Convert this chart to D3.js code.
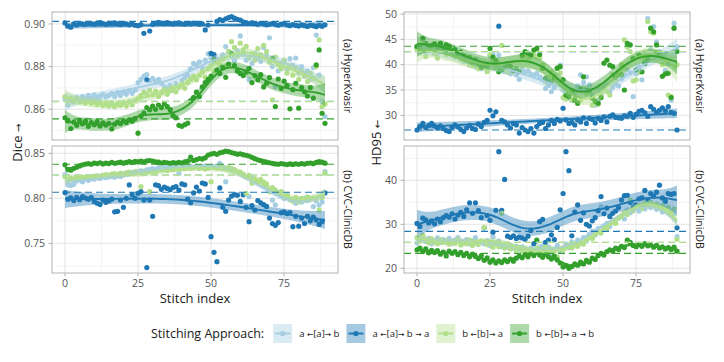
<!DOCTYPE html>
<html>
<head>
<meta charset="utf-8">
<script src="https://cdn.jsdelivr.net/npm/d3@7"></script>
<style>
  body { margin: 0; background: #ffffff; }
  svg { font-family: "Open Sans", sans-serif; }
  .arrow { font-family: "DejaVu Sans", sans-serif; }
</style>
</head>
<body>
<svg id="chart" width="724" height="362"></svg>
<script>
var stitchIndex = d3.range(90);
var approaches = [["a ", "\u2190", "[a]", "\u2192", " b"], ["a ", "\u2190", "[a]", "\u2192", " b ", "\u2192", " a"], ["b ", "\u2190", "[b]", "\u2192", " a"], ["b ", "\u2190", "[b]", "\u2192", " a ", "\u2192", " b"]];
var approachColors = ["#a6cee3", "#1f78b4", "#b2df8a", "#33a02c"];
var datasets = ["(a) HyperKvasir", "(b) CVC-ClinicDB"];
var metrics = [["Dice ", "\u2192"], ["HD95 ", "\u2190"]];

// Dice, HyperKvasir
var diceKvasirAB = [0.8650,0.8620,0.8640,0.8635,0.8655,0.8642,0.8660,0.8648,0.8665,0.8652,0.8668,0.8655,0.8662,0.8670,0.8658,0.8665,0.8674,0.8660,0.8678,0.8665,0.8682,0.8670,0.8688,0.8675,0.8690,0.8725,0.8740,0.8755,0.8762,0.8735,0.8745,0.8728,0.8740,0.8722,0.8705,0.8698,0.8712,0.8690,0.8720,0.8705,0.8735,0.8748,0.8760,0.8790,0.8815,0.8808,0.8822,0.8795,0.8830,0.8860,0.8842,0.8820,0.8835,0.8810,0.8855,0.8894,0.8870,0.8850,0.8828,0.8875,0.8944,0.8860,0.8830,0.8738,0.8815,0.8862,0.8840,0.8825,0.8890,0.8850,0.8935,0.8800,0.8706,0.8780,0.8815,0.8822,0.8790,0.8838,0.8805,0.8840,0.8770,0.8800,0.8755,0.8780,0.8740,0.8795,0.8948,0.8760,0.8635,0.8566];
var diceKvasirABA = [0.9005,0.8990,0.8985,0.9000,0.8995,0.9002,0.9000,0.8998,0.9003,0.9001,0.8999,0.9004,0.9006,0.9002,0.8998,0.9003,0.9001,0.9005,0.9000,0.8997,0.9002,0.9000,0.8996,0.9001,0.8994,0.8992,0.8997,0.8956,0.8738,0.8967,0.8998,0.9003,0.9007,0.9004,0.9001,0.9006,0.9003,0.9000,0.9002,0.9005,0.9001,0.8999,0.9003,0.9000,0.9004,0.9002,0.8998,0.9001,0.8972,0.8995,0.8862,0.8856,0.9012,0.9020,0.9016,0.9024,0.9030,0.9034,0.9027,0.9021,0.9018,0.9010,0.9006,0.9002,0.9005,0.9001,0.8998,0.9003,0.9000,0.8996,0.8999,0.9002,0.8997,0.8994,0.8999,0.9001,0.8995,0.8992,0.8997,0.8993,0.8990,0.8996,0.8992,0.8988,0.8994,0.8991,0.8987,0.8993,0.8989,0.8996];
var diceKvasirBA = [0.8660,0.8645,0.8652,0.8638,0.8648,0.8635,0.8642,0.8630,0.8645,0.8628,0.8638,0.8622,0.8635,0.8618,0.8630,0.8615,0.8628,0.8612,0.8625,0.8618,0.8630,0.8615,0.8635,0.8620,0.8642,0.8650,0.8665,0.8680,0.8672,0.8690,0.8668,0.8685,0.8660,0.8678,0.8692,0.8670,0.8688,0.8700,0.8682,0.8705,0.8715,0.8698,0.8725,0.8740,0.8755,0.8738,0.8760,0.8775,0.8750,0.8790,0.8805,0.8780,0.8820,0.8810,0.8835,0.8800,0.8872,0.8917,0.8890,0.8850,0.8910,0.8880,0.8895,0.8840,0.8860,0.8830,0.8885,0.8855,0.8900,0.8870,0.8820,0.8644,0.8845,0.8810,0.8790,0.8830,0.8770,0.8805,0.8760,0.8795,0.8740,0.8780,0.8760,0.8730,0.8770,0.8745,0.8800,0.8925,0.8612,0.8625];
var diceKvasirBAB = [0.8560,0.8545,0.8510,0.8540,0.8525,0.8548,0.8532,0.8545,0.8520,0.8538,0.8528,0.8542,0.8522,0.8536,0.8526,0.8534,0.8508,0.8530,0.8540,0.8533,0.8545,0.8538,0.8550,0.8544,0.8556,0.8488,0.8568,0.8582,0.8608,0.8598,0.8615,0.8600,0.8620,0.8608,0.8625,0.8612,0.8598,0.8570,0.8560,0.8525,0.8520,0.8528,0.8535,0.8640,0.8655,0.8680,0.8660,0.8705,0.8725,0.8740,0.8755,0.8834,0.8785,0.8768,0.8795,0.8750,0.8812,0.8862,0.8805,0.8780,0.8768,0.8758,0.8775,0.8792,0.8725,0.8758,0.8738,0.8762,0.8705,0.8722,0.8748,0.8839,0.8613,0.8742,0.8698,0.8732,0.8712,0.8602,0.8692,0.8722,0.8605,0.8702,0.8682,0.8662,0.8702,0.8652,0.8808,0.8878,0.8581,0.8534];

// Dice, CVC-ClinicDB
var diceClinicAB = [0.8262,0.8150,0.8142,0.8155,0.8195,0.8210,0.8185,0.8220,0.8200,0.8228,0.8215,0.8235,0.8222,0.8240,0.8230,0.8238,0.8245,0.8235,0.8250,0.8242,0.8258,0.8265,0.8272,0.8285,0.8278,0.8292,0.8305,0.8298,0.8315,0.8322,0.8330,0.8318,0.8340,0.8328,0.8345,0.8335,0.8350,0.8338,0.8345,0.8278,0.8352,0.8340,0.8355,0.8348,0.8342,0.8358,0.8346,0.8352,0.8360,0.8345,0.8355,0.8348,0.8360,0.8389,0.8352,0.8185,0.8345,0.8330,0.8310,0.8295,0.8278,0.8262,0.8240,0.8019,0.8225,0.8200,0.8175,0.8185,0.8150,0.8135,0.8100,0.7980,0.7926,0.8060,0.8025,0.8000,0.8040,0.7990,0.7970,0.7945,0.7985,0.7960,0.8000,0.7975,0.7990,0.7907,0.7970,0.7925,0.7960,0.8296];
var diceClinicABA = [0.8063,0.7990,0.8005,0.7975,0.8010,0.7985,0.8020,0.8002,0.7990,0.8008,0.7965,0.7945,0.7930,0.7980,0.7955,0.7970,0.7990,0.7850,0.7855,0.7980,0.7900,0.8000,0.8148,0.8040,0.8000,0.8055,0.8075,0.7980,0.7230,0.7980,0.7800,0.8150,0.8140,0.8100,0.8125,0.8110,0.8095,0.8120,0.8130,0.8090,0.8160,0.8150,0.7990,0.7950,0.8060,0.8125,0.8080,0.8170,0.8160,0.8010,0.7574,0.7400,0.7296,0.8115,0.7900,0.7855,0.7980,0.8025,0.8040,0.8035,0.7965,0.8040,0.7900,0.7740,0.7920,0.7870,0.7975,0.7950,0.7930,0.7910,0.7780,0.7720,0.7700,0.7730,0.7840,0.7850,0.7830,0.7840,0.7685,0.7800,0.7690,0.7780,0.7720,0.7800,0.7750,0.7790,0.7760,0.7710,0.7740,0.8060];
var diceClinicBA = [0.8240,0.8205,0.8225,0.8210,0.8230,0.8218,0.8235,0.8222,0.8240,0.8228,0.8245,0.8250,0.8238,0.8255,0.8262,0.8250,0.8268,0.8275,0.8262,0.8280,0.8272,0.8285,0.8292,0.8280,0.8296,0.8290,0.8130,0.8300,0.8292,0.8074,0.8305,0.8298,0.8407,0.8315,0.8322,0.8310,0.8325,0.8318,0.8330,0.8320,0.8335,0.8328,0.8340,0.8330,0.8338,0.8345,0.8332,0.8340,0.8325,0.8335,0.8185,0.8342,0.8335,0.8348,0.8338,0.8330,0.8340,0.8325,0.8318,0.8300,0.8292,0.8270,0.8056,0.8255,0.8167,0.8220,0.8195,0.8210,0.8180,0.8160,0.8074,0.8120,0.8090,0.8050,0.8075,0.8010,0.8035,0.7985,0.7970,0.8010,0.7960,0.8000,0.7980,0.8015,0.7990,0.8005,0.7995,0.7870,0.8010,0.8278];
var diceClinicBAB = [0.8372,0.8318,0.8312,0.8330,0.8345,0.8360,0.8372,0.8380,0.8385,0.8378,0.8392,0.8386,0.8395,0.8382,0.8390,0.8386,0.8398,0.8388,0.8395,0.8402,0.8390,0.8398,0.8408,0.8400,0.8410,0.8404,0.8412,0.8406,0.8415,0.8420,0.8412,0.8405,0.8398,0.8392,0.8400,0.8395,0.8388,0.8396,0.8390,0.8398,0.8392,0.8405,0.8412,0.8458,0.8420,0.8430,0.8442,0.8436,0.8450,0.8480,0.8492,0.8500,0.8488,0.8505,0.8512,0.8525,0.8518,0.8508,0.8500,0.8490,0.8495,0.8485,0.8478,0.8470,0.8455,0.8440,0.8428,0.8418,0.8410,0.8402,0.8395,0.8388,0.8382,0.8378,0.8386,0.8380,0.8375,0.8382,0.8376,0.8384,0.8378,0.8386,0.8380,0.8388,0.8392,0.8385,0.8398,0.8408,0.8402,0.8390];

// HD95, HyperKvasir
var hdKvasirAB = [43.4,43.0,43.8,42.6,43.2,42.8,43.5,42.2,42.9,43.1,42.4,42.8,42.0,41.6,42.2,41.0,40.6,41.2,40.0,40.4,39.6,40.0,39.2,39.8,38.9,41.8,42.0,39.2,41.9,38.9,38.6,39.5,38.2,38.8,38.0,37.1,39.1,38.5,38.8,38.2,37.8,38.3,37.6,37.0,35.3,35.9,34.7,35.5,36.8,39.9,35.0,34.2,33.4,33.0,34.5,35.8,38.0,36.5,37.6,36.0,34.0,32.0,33.0,34.5,35.2,36.0,34.7,35.5,36.2,35.8,37.2,38.0,39.0,38.4,33.7,38.2,39.5,37.0,40.6,49.1,43.0,47.5,44.5,42.6,41.5,38.9,40.2,33.0,48.2,43.5];
var hdKvasirABA = [27.1,27.8,28.4,27.6,28.0,28.4,27.9,27.5,27.9,27.4,27.0,26.8,27.6,28.1,27.7,27.2,26.8,27.5,28.0,27.4,27.2,28.3,27.8,28.6,29.0,31.0,29.9,30.7,47.6,29.0,28.7,28.1,27.5,28.4,28.1,26.5,27.6,27.1,26.8,27.4,26.5,27.8,28.4,28.6,27.4,28.1,29.0,28.4,29.2,28.9,31.4,29.1,28.4,28.6,28.1,29.1,28.7,29.5,28.4,29.4,29.2,28.5,29.4,29.0,29.7,28.7,29.8,30.1,29.6,29.5,29.4,29.9,29.8,30.4,29.6,30.2,30.8,31.0,30.5,29.8,31.7,31.2,30.6,31.0,31.5,30.9,31.7,30.6,30.4,27.1];
var hdKvasirBA = [43.0,42.5,44.2,41.6,42.8,43.5,42.2,41.3,43.0,42.6,42.0,43.2,42.5,41.5,42.0,41.2,40.8,41.5,40.2,39.8,40.5,39.2,40.0,39.5,38.6,42.0,40.8,39.5,40.2,43.8,39.0,38.5,39.4,38.6,39.0,38.8,41.5,41.8,41.2,41.6,42.0,41.5,41.3,40.0,36.6,37.5,38.6,38.0,39.3,38.4,33.5,33.2,34.8,33.0,33.5,32.4,33.0,35.3,34.2,35.0,32.0,32.6,32.2,33.8,35.5,34.7,34.0,38.0,36.8,38.5,40.0,44.9,43.5,42.6,36.8,37.0,38.5,38.6,41.0,48.5,46.5,46.2,42.5,41.8,40.0,38.2,34.0,33.7,47.2,40.0];
var hdKvasirBAB = [43.6,43.2,45.2,44.2,43.0,43.8,44.1,43.5,44.2,43.3,43.9,43.6,42.8,43.0,42.2,42.5,41.8,41.2,41.5,40.6,41.0,40.3,39.5,40.1,39.8,43.2,41.5,40.8,38.6,39.0,39.4,40.2,39.6,38.8,39.2,38.6,41.9,42.6,42.3,41.9,42.9,43.2,42.0,39.3,37.3,36.8,36.6,37.4,39.3,39.6,37.0,34.0,33.7,34.7,33.0,32.4,35.2,37.6,35.0,34.8,33.4,32.8,32.4,33.5,40.3,40.9,39.9,39.6,37.5,38.0,38.0,35.0,44.2,43.9,41.2,39.0,41.9,38.6,40.2,41.0,47.2,46.5,43.9,42.0,37.7,38.2,38.3,33.5,47.2,42.6];

// HD95, CVC-ClinicDB
var hdClinicAB = [25.8,26.6,27.2,26.1,26.8,25.6,26.3,26.9,25.9,26.5,26.0,26.8,25.7,26.4,27.0,26.2,25.8,26.5,25.6,26.2,27.0,25.4,26.0,25.6,26.3,25.2,27.1,25.8,26.2,24.9,25.5,24.8,25.2,24.6,25.0,24.3,24.9,24.5,23.8,24.6,24.2,23.6,24.8,25.1,24.4,24.9,23.0,24.3,25.2,24.0,24.6,25.5,24.7,26.0,25.3,26.4,25.8,27.0,26.2,27.8,28.4,27.6,29.0,34.0,29.6,30.2,29.5,31.0,30.3,31.4,32.0,31.2,33.3,32.6,34.5,33.6,33.0,34.2,33.5,34.6,33.8,34.3,33.4,34.0,32.8,33.5,32.6,33.0,32.4,27.2];
var hdClinicABA = [30.2,29.5,31.4,31.0,30.3,30.8,30.1,31.2,30.6,31.5,32.0,31.6,32.4,31.2,32.1,32.7,31.8,33.3,34.9,32.5,34.9,33.1,31.5,29.2,32.0,30.9,28.2,33.2,46.5,33.2,40.2,27.3,27.0,27.4,26.8,27.1,26.9,26.6,27.3,28.6,25.6,26.2,30.6,31.1,25.9,26.4,27.6,26.5,29.3,33.3,37.0,46.5,42.2,27.4,32.8,34.4,30.9,32.6,30.0,29.6,30.8,31.5,33.1,36.3,32.4,33.7,31.8,32.5,33.0,33.8,35.5,36.5,36.6,35.0,33.8,34.4,35.8,36.0,37.7,35.5,37.0,36.4,37.3,38.9,36.0,35.2,37.0,36.8,37.0,29.2];
var hdClinicBA = [27.0,26.2,27.5,26.4,25.8,26.7,26.0,25.6,26.5,25.9,26.3,25.5,26.1,25.7,26.6,25.3,26.0,25.6,26.4,25.2,25.8,25.5,26.2,29.3,25.4,25.9,24.8,25.5,24.9,32.5,24.6,25.2,24.4,24.9,24.1,24.7,24.0,24.5,23.7,24.2,23.9,24.6,23.5,24.3,24.8,23.8,24.4,24.0,22.6,24.5,24.2,24.9,25.3,24.6,25.6,25.0,26.0,25.5,26.6,27.0,26.8,27.9,28.4,28.0,29.3,29.0,30.1,30.6,30.2,31.5,31.8,32.6,32.2,35.5,33.1,33.8,34.3,33.6,34.8,34.2,35.0,34.1,34.6,33.7,34.3,33.2,33.9,32.8,33.5,26.6];
var hdClinicBAB = [24.2,24.6,23.8,24.4,23.5,24.1,23.6,24.0,23.2,23.7,22.8,23.9,23.4,23.8,23.1,23.6,22.9,23.4,22.6,23.2,22.7,22.2,22.9,21.8,22.4,21.4,21.9,21.2,21.7,21.3,21.9,21.5,22.1,21.6,22.3,22.8,22.4,23.1,22.6,23.3,22.9,26.4,23.0,22.5,23.2,22.6,22.1,22.8,21.9,21.2,20.3,20.6,20.0,20.4,21.0,20.7,21.4,21.0,21.8,21.4,22.3,22.0,22.9,23.4,23.0,23.8,24.2,23.9,24.6,24.3,25.0,24.7,26.4,25.9,25.2,24.9,25.4,25.0,25.6,25.1,25.3,24.8,25.2,24.6,24.9,24.4,24.7,24.3,24.8,23.9];

// single-model reference lines, one per approach
var diceKvasirBaseline = [0.8638, 0.9012, 0.8636, 0.8555];
var diceClinicBaseline = [0.8261, 0.8067, 0.8257, 0.8378];
var hdKvasirBaseline = [42.5, 27.1, 42.6, 43.65];
var hdClinicBaseline = [25.9, 28.4, 25.9, 23.4];

var xTicks = [0, 25, 50, 75];
var diceKvasirTicks = [0.86, 0.88, 0.90];
var diceClinicTicks = [0.75, 0.80, 0.85];
var hdKvasirTicks = [30, 35, 40, 45, 50];
var hdClinicTicks = [20, 30, 40];

var panels = [
  { col: 0, row: 0, series: [diceKvasirAB, diceKvasirABA, diceKvasirBA, diceKvasirBAB], baseline: diceKvasirBaseline, ticks: diceKvasirTicks, domain: [0.8456, 0.9056], format: ".2f" },
  { col: 0, row: 1, series: [diceClinicAB, diceClinicABA, diceClinicBA, diceClinicBAB], baseline: diceClinicBaseline, ticks: diceClinicTicks, domain: [0.7170, 0.8581], format: ".2f" },
  { col: 1, row: 0, series: [hdKvasirAB, hdKvasirABA, hdKvasirBA, hdKvasirBAB], baseline: hdKvasirBaseline, ticks: hdKvasirTicks, domain: [25.13, 50.4], format: "d" },
  { col: 1, row: 1, series: [hdClinicAB, hdClinicABA, hdClinicBA, hdClinicBAB], baseline: hdClinicBaseline, ticks: hdClinicTicks, domain: [18.93, 47.8], format: "d" }
];

var colLeft = [52, 404];
var panelWidth = 286;
var rowTop = [12, 146];
var panelHeight = [128, 127];

// ---- penalized cubic B-spline smoother, smoothing chosen by REML ----
function bsplineRow(x, knots) {
  var N = [];
  for (var j = 0; j < knots.length - 1; j++) N.push(x >= knots[j] && x < knots[j + 1] ? 1 : 0);
  for (var p = 1; p <= 3; p++) {
    var M = [];
    for (var j = 0; j < knots.length - 1 - p; j++) {
      M.push((x - knots[j]) / (knots[j + p] - knots[j]) * N[j] +
             (knots[j + p + 1] - x) / (knots[j + p + 1] - knots[j + 1]) * N[j + 1]);
    }
    N = M;
  }
  return N;
}

// Gauss-Jordan inverse, also returns log|det|
function invert(A) {
  var n = A.length, logdet = 0;
  var M = A.map(function(r, i) { return r.concat(d3.range(n).map(function(j) { return i === j ? 1 : 0; })); });
  for (var c = 0; c < n; c++) {
    var piv = c;
    for (var r = c + 1; r < n; r++) if (Math.abs(M[r][c]) > Math.abs(M[piv][c])) piv = r;
    var t = M[c]; M[c] = M[piv]; M[piv] = t;
    var d = M[c][c];
    logdet += Math.log(Math.abs(d));
    for (var k = 0; k < 2 * n; k++) M[c][k] /= d;
    for (var r = 0; r < n; r++) {
      if (r === c) continue;
      var f = M[r][c];
      if (f !== 0) for (var k = 0; k < 2 * n; k++) M[r][k] -= f * M[c][k];
    }
  }
  return { inv: M.map(function(r) { return r.slice(n); }), logdet: logdet };
}

function dot(a, b) { var s = 0; for (var i = 0; i < a.length; i++) s += a[i] * b[i]; return s; }

function smooth(xs, ys) {
  var nseg = 10;
  var lo = d3.min(xs), hi = d3.max(xs), dx = (hi - lo) / nseg;
  var knots = d3.range(-3, nseg + 4).map(function(k) { return lo + k * dx; });
  var B = xs.map(function(x) { return bsplineRow(x, knots); });
  var n = xs.length, q = B[0].length;

  var BtB = d3.range(q).map(function(i) { return d3.range(q).map(function(j) { var s = 0; for (var r = 0; r < n; r++) s += B[r][i] * B[r][j]; return s; }); });
  var Bty = d3.range(q).map(function(i) { var s = 0; for (var r = 0; r < n; r++) s += B[r][i] * ys[r]; return s; });
  // second-order difference penalty (null space: straight lines)
  var D = d3.range(q - 2).map(function(i) { return d3.range(q).map(function(j) { return j === i ? 1 : j === i + 1 ? -2 : j === i + 2 ? 1 : 0; }); });
  var P = d3.range(q).map(function(i) { return d3.range(q).map(function(j) { var s = 0; for (var r = 0; r < D.length; r++) s += D[r][i] * D[r][j]; return s; }); });

  var best = null;
  for (var e = -4; e <= 9; e += 0.05) {
    var lam = Math.pow(10, e);
    var sol = invert(BtB.map(function(r, i) { return r.map(function(v, j) { return v + lam * P[i][j]; }); }));
    var Ai = sol.inv;
    var beta = Ai.map(function(r) { return dot(r, Bty); });
    var rss = 0;
    for (var r = 0; r < n; r++) { var res = ys[r] - dot(B[r], beta); rss += res * res; }
    var pen = lam * dot(beta, P.map(function(r) { return dot(r, beta); }));
    var reml = (n - 2) * Math.log(rss + pen) + sol.logdet - (q - 2) * Math.log(lam);
    if (!best || reml < best.reml) {
      var edf = 0;
      for (var i = 0; i < q; i++) for (var j = 0; j < q; j++) edf += Ai[i][j] * BtB[j][i];
      best = { reml: reml, Ai: Ai, beta: beta, rss: rss, edf: edf };
    }
  }
  var s2 = best.rss / (n - best.edf);
  return d3.range(80).map(function(k) {
    var x = lo + (hi - lo) * k / 79;
    var b = bsplineRow(Math.min(x, hi - 1e-9), knots);
    var fit = dot(b, best.beta);
    var v = dot(b, best.Ai.map(function(r) { return dot(r, b); })) * s2;
    var se = Math.sqrt(Math.max(v, 0));
    return { x: x, y: fit, lo: fit - 1.99 * se, hi: fit + 1.99 * se };
  });
}

// text with arrows set in a font that has them
function arrowText(sel, parts) {
  parts.forEach(function(part) {
    var span = sel.append("tspan").text(part);
    if (/[\u2190-\u2193]/.test(part)) span.attr("class", "arrow").attr("font-size", "0.8em");
  });
  return sel;
}

// ---- drawing ----
var svg = d3.select("#chart");
var defs = svg.append("defs");

panels.forEach(function(p, pi) {
  var left = colLeft[p.col], top = rowTop[p.row], h = panelHeight[p.row];
  var x = d3.scaleLinear().domain([-4.45, 93.45]).range([left, left + panelWidth]);
  var y = d3.scaleLinear().domain(p.domain).range([top + h, top]);
  var g = svg.append("g");

  defs.append("clipPath").attr("id", "clip" + pi)
    .append("rect").attr("x", left).attr("y", top).attr("width", panelWidth).attr("height", h);

  var step = p.ticks[1] - p.ticks[0];
  var yMinor = d3.range(p.ticks[0] - step / 2, p.ticks[p.ticks.length - 1] + step, step)
    .filter(function(v) { return v > p.domain[0] && v < p.domain[1]; });
  var xMinor = [12.5, 37.5, 62.5, 87.5];

  var grid = g.append("g");
  grid.selectAll("line.ymin").data(yMinor).enter().append("line")
    .attr("x1", left).attr("x2", left + panelWidth)
    .attr("y1", function(d) { return y(d); }).attr("y2", function(d) { return y(d); })
    .attr("stroke", "#efefef").attr("stroke-width", 0.6);
  grid.selectAll("line.xmin").data(xMinor).enter().append("line")
    .attr("y1", top).attr("y2", top + h)
    .attr("x1", function(d) { return x(d); }).attr("x2", function(d) { return x(d); })
    .attr("stroke", "#efefef").attr("stroke-width", 0.6);
  grid.selectAll("line.ymaj").data(p.ticks).enter().append("line")
    .attr("x1", left).attr("x2", left + panelWidth)
    .attr("y1", function(d) { return y(d); }).attr("y2", function(d) { return y(d); })
    .attr("stroke", "#e2e2e2").attr("stroke-width", 0.9);
  grid.selectAll("line.xmaj").data(xTicks).enter().append("line")
    .attr("y1", top).attr("y2", top + h)
    .attr("x1", function(d) { return x(d); }).attr("x2", function(d) { return x(d); })
    .attr("stroke", "#e2e2e2").attr("stroke-width", 0.9);

  var plot = g.append("g").attr("clip-path", "url(#clip" + pi + ")");

  p.series.forEach(function(values, si) {
    plot.append("g").attr("fill", approachColors[si])
      .selectAll("circle").data(values).enter().append("circle")
      .attr("cx", function(d, i) { return x(stitchIndex[i]); })
      .attr("cy", function(d) { return y(d); })
      .attr("r", 2.6);
  });

  var area = d3.area().x(function(d) { return x(d.x); }).y0(function(d) { return y(d.lo); }).y1(function(d) { return y(d.hi); });
  var line = d3.line().x(function(d) { return x(d.x); }).y(function(d) { return y(d.y); });
  p.series.forEach(function(values, si) {
    var fit = smooth(stitchIndex, values);
    plot.append("path").attr("d", area(fit))
      .attr("fill", approachColors[si]).attr("fill-opacity", 0.4);
    plot.append("path").attr("d", line(fit))
      .attr("fill", "none").attr("stroke", approachColors[si]).attr("stroke-width", 1.9);
  });

  plot.selectAll("line.base").data(p.baseline).enter().append("line")
    .attr("x1", left).attr("x2", left + panelWidth)
    .attr("y1", function(d) { return y(d); }).attr("y2", function(d) { return y(d); })
    .attr("stroke", function(d, i) { return approachColors[i]; })
    .attr("stroke-width", 1.1)
    .attr("stroke-dasharray", "7,4");

  g.append("rect").attr("x", left).attr("y", top).attr("width", panelWidth).attr("height", h)
    .attr("fill", "none").attr("stroke", "#b3b3b3").attr("stroke-width", 1);

  // y axis
  var yAxis = g.append("g").attr("font-size", 10.5).attr("fill", "#555555").attr("text-anchor", "end");
  yAxis.selectAll("line").data(p.ticks).enter().append("line")
    .attr("x1", left - 3.5).attr("x2", left)
    .attr("y1", function(d) { return y(d); }).attr("y2", function(d) { return y(d); })
    .attr("stroke", "#b3b3b3");
  yAxis.selectAll("text").data(p.ticks).enter().append("text")
    .attr("x", left - 7).attr("y", function(d) { return y(d); })
    .attr("dy", "0.35em")
    .text(function(d) { return d3.format(p.format)(d); });

  // x axis on bottom row
  if (p.row === 1) {
    var xAxis = g.append("g").attr("font-size", 10.5).attr("fill", "#555555").attr("text-anchor", "middle");
    xAxis.selectAll("line").data(xTicks).enter().append("line")
      .attr("y1", top + h).attr("y2", top + h + 3.5)
      .attr("x1", function(d) { return x(d); }).attr("x2", function(d) { return x(d); })
      .attr("stroke", "#b3b3b3");
    xAxis.selectAll("text").data(xTicks).enter().append("text")
      .attr("y", top + h + 14)
      .attr("x", function(d) { return x(d); })
      .text(function(d) { return d; });
    g.append("text").attr("x", left + panelWidth / 2).attr("y", top + h + 30)
      .attr("text-anchor", "middle").attr("font-size", 13).attr("fill", "#1a1a1a")
      .text("Stitch index");
  }

  // strip label on the right
  var sx = left + panelWidth + 10, sy = top + h / 2;
  g.append("text").attr("transform", "translate(" + sx + "," + sy + ") rotate(90)")
    .attr("text-anchor", "middle").attr("dy", "0.35em")
    .attr("font-size", 10.5).attr("fill", "#1a1a1a")
    .text(datasets[p.row]);
});

// metric titles
[17, 376].forEach(function(tx, i) {
  var t = svg.append("text").attr("transform", "translate(" + tx + "," + 142.5 + ") rotate(-90)")
    .attr("text-anchor", "middle").attr("dy", "0.35em")
    .attr("font-size", 13).attr("fill", "#1a1a1a");
  arrowText(t, metrics[i]);
});

// legend
var legend = svg.append("g");
var title = legend.append("text").attr("font-size", 12.5).attr("fill", "#1a1a1a").attr("dy", "0.35em")
  .text("Stitching Approach:");
var cursor = title.node().getComputedTextLength() + 9;
approaches.forEach(function(label, i) {
  var key = legend.append("g").attr("transform", "translate(" + cursor + ",0)");
  key.append("rect").attr("x", 0).attr("y", -9.5).attr("width", 19).attr("height", 19)
    .attr("fill", approachColors[i]).attr("fill-opacity", 0.4);
  key.append("line").attr("x1", 2).attr("x2", 17).attr("y1", 0).attr("y2", 0)
    .attr("stroke", approachColors[i]).attr("stroke-width", 1.9);
  key.append("circle").attr("cx", 9.5).attr("cy", 0).attr("r", 2.6).attr("fill", approachColors[i]);
  var t = key.append("text").attr("x", 26).attr("dy", "0.35em").attr("font-size", 9.5).attr("fill", "#1a1a1a");
  arrowText(t, label);
  cursor += 26 + t.node().getComputedTextLength() + 7;
});
var legendWidth = cursor - 7;
legend.attr("transform", "translate(" + (372.5 - legendWidth / 2) + ",333.5)");
</script>
</body>
</html>
